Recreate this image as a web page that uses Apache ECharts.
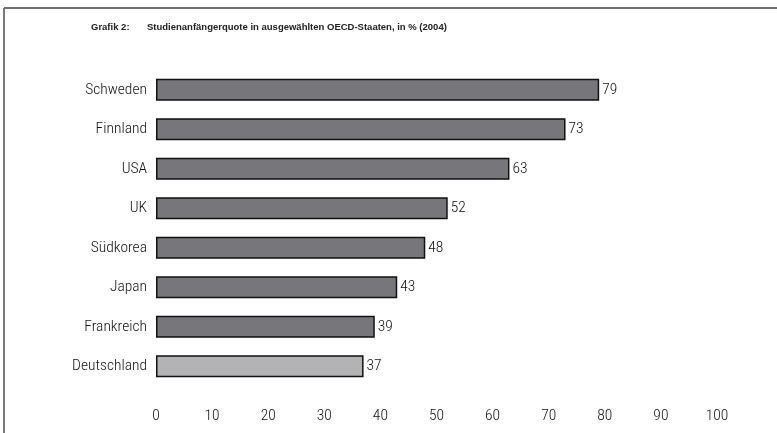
<!DOCTYPE html>
<html>
<head>
<meta charset="utf-8">
<script src="https://cdn.jsdelivr.net/npm/echarts@6/dist/echarts.min.js"></script>
<style>
  html, body { margin: 0; padding: 0; background: #fff; }
  #chart { width: 777px; height: 433px; }
</style>
</head>
<body>
<div id="chart"></div>
<script>
// Studienanfängerquote 2004, in Prozent
const countries = ['Schweden', 'Finnland', 'USA', 'UK', 'Südkorea', 'Japan', 'Frankreich', 'Deutschland'];
const quotes = [79, 73, 63, 52, 48, 43, 39, 37];
const highlight = 'Deutschland';
const xTicks = [0, 10, 20, 30, 40, 50, 60, 70, 80, 90, 100];

const narrow = '"Roboto Condensed", "DejaVu Sans Condensed", sans-serif';
const titleFont = '"Liberation Sans", Arial, sans-serif';
const labelWeight = 350;

const chart = echarts.init(document.getElementById('chart'), null, { renderer: 'canvas' });

chart.setOption({
  animation: false,
  backgroundColor: '#ffffff',
  title: [
    {
      text: 'Grafik 2:',
      left: 91, top: 22, padding: 0,
      textStyle: { fontFamily: titleFont, fontSize: 9.5, fontWeight: 'bold', color: '#222' }
    },
    {
      text: 'Studienanfängerquote in ausgewählten OECD-Staaten, in % (2004)',
      left: 147, top: 22, padding: 0,
      textStyle: { fontFamily: titleFont, fontSize: 9.5, fontWeight: 'bold', color: '#222' }
    }
  ],
  graphic: [
    { type: 'line', shape: { x1: 4, y1: 8, x2: 777, y2: 8 }, style: { stroke: '#6f6f6f', lineWidth: 2 } },
    { type: 'line', shape: { x1: 4, y1: 8, x2: 4, y2: 433 }, style: { stroke: '#7a7a7a', lineWidth: 2 } }
  ],
  grid: { left: 156, right: 60, top: 70, bottom: 47, containLabel: false },
  xAxis: {
    type: 'value',
    min: xTicks[0],
    max: xTicks[xTicks.length - 1],
    interval: 10,
    axisLine: { show: false },
    axisTick: { show: false },
    splitLine: { show: false },
    axisLabel: { margin: 22, fontFamily: narrow, fontSize: 15.5, fontWeight: labelWeight, color: '#111' }
  },
  yAxis: {
    type: 'category',
    inverse: true,
    data: countries,
    axisLine: { show: false },
    axisTick: { show: false },
    axisLabel: { margin: 9, fontFamily: narrow, fontSize: 15.5, fontWeight: labelWeight, color: '#111' }
  },
  series: [{
    type: 'bar',
    data: countries.map((c, i) => ({
      value: quotes[i],
      itemStyle: { color: c === highlight ? '#b3b3b6' : '#77777b' }
    })),
    barCategoryGap: '44%',
    itemStyle: { borderColor: '#111', borderWidth: 1.5 },
    label: {
      show: true, position: 'right', distance: 3,
      fontFamily: narrow, fontSize: 15.5, fontWeight: labelWeight, color: '#111'
    }
  }]
});
</script>
</body>
</html>
